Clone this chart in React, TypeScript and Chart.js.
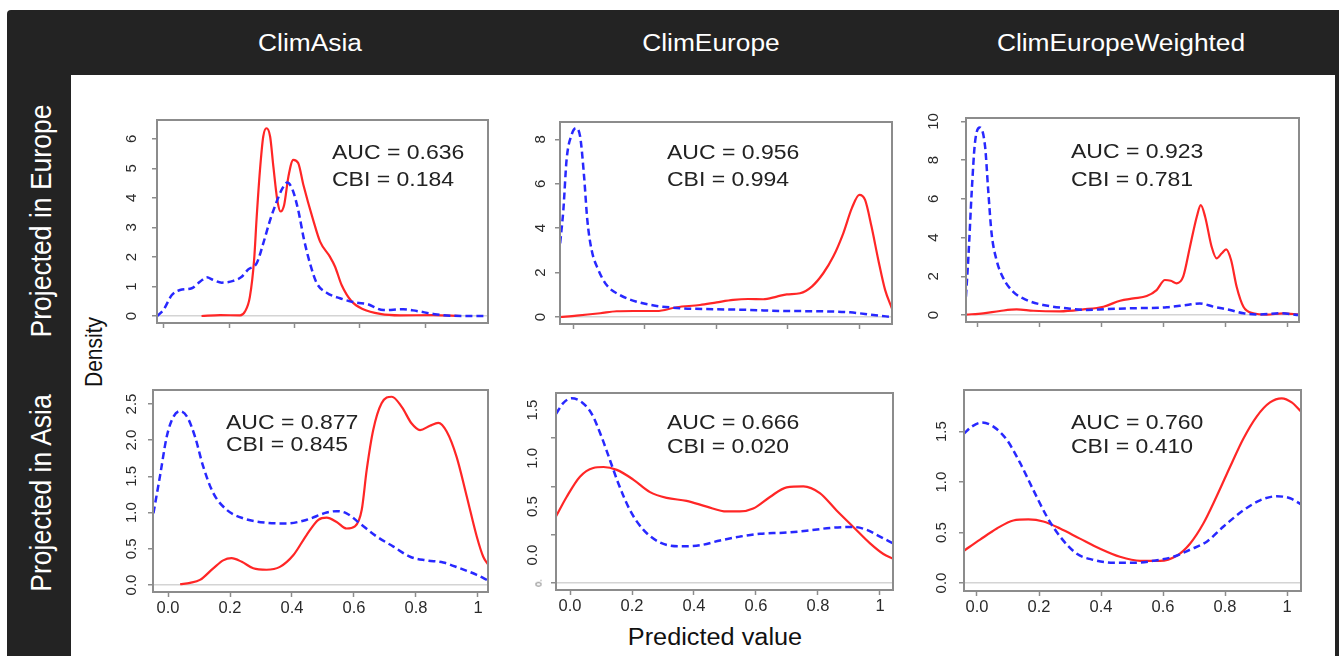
import React, { useEffect, useRef } from "react";
import { Chart, registerables } from "chart.js";

Chart.register(...registerables);

const FONT = '"Liberation Sans", Arial, Helvetica, sans-serif';
const RED = "rgb(255,38,38)";
const BLUE = "rgb(40,40,255)";
const AXIS = "#8c8c8c";

// ---------- text ----------
const colHeaders = ["ClimAsia", "ClimEurope", "ClimEuropeWeighted"];
const rowHeaders = ["Projected in Europe", "Projected in Asia"];
const aucValues = ["0.636", "0.956", "0.923", "0.877", "0.666", "0.760"];
const cbiValues = ["0.184", "0.994", "0.781", "0.845", "0.020", "0.410"];

// ---------- ticks ----------
const xTicksShort = [0, 0.2, 0.4, 0.6, 0.8];
const xTicksFull = [0, 0.2, 0.4, 0.6, 0.8, 1];
const xTickLabels = ["0.0", "0.2", "0.4", "0.6", "0.8", "1"];

const yTicksEuAsia = [0, 1, 2, 3, 4, 5, 6];
const yLabelsEuAsia = ["0", "1", "2", "3", "4", "5", "6"];
const yTicksEuEurope = [0, 2, 4, 6, 8];
const yLabelsEuEurope = ["0", "2", "4", "6", "8"];
const yTicksEuWeighted = [0, 2, 4, 6, 8, 10];
const yLabelsEuWeighted = ["0", "2", "4", "6", "8", "10"];
const yTicksAsAsia = [0, 0.5, 1, 1.5, 2, 2.5];
const yLabelsAsAsia = ["0.0", "0.5", "1.0", "1.5", "2.0", "2.5"];
const yTicksAsEurope = [0, 0.5, 1, 1.5];
const yLabelsAsEurope = ["0.0", "0.5", "1.0", "1.5"];
const yTicksAsWeighted = [0, 0.5, 1, 1.5];
const yLabelsAsWeighted = ["0.0", "0.5", "1.0", "1.5"];

// ---------- series: Projected in Europe / ClimAsia ----------
const euAsiaBlueX = [-0.021, -0.002, 0.024, 0.049, 0.085, 0.11, 0.131, 0.151, 0.177, 0.212, 0.238, 0.258, 0.284, 0.304, 0.325, 0.345, 0.363, 0.378, 0.394, 0.411, 0.429, 0.447, 0.468, 0.498, 0.539, 0.59, 0.621, 0.672, 0.733, 0.774, 0.825, 0.876, 0.992];
const euAsiaBlueY = [0, 0.2, 0.71, 0.88, 0.94, 1.16, 1.31, 1.22, 1.13, 1.19, 1.33, 1.58, 1.79, 2.46, 3.25, 3.87, 4.33, 4.52, 4.27, 3.59, 2.58, 1.79, 1.11, 0.79, 0.6, 0.45, 0.41, 0.2, 0.23, 0.17, 0.07, 0.01, 0];
const euAsiaRedX = [0.115, 0.172, 0.233, 0.248, 0.263, 0.276, 0.284, 0.294, 0.304, 0.314, 0.325, 0.335, 0.347, 0.357, 0.368, 0.381, 0.396, 0.411, 0.427, 0.457, 0.478, 0.508, 0.524, 0.544, 0.575, 0.61, 0.662, 0.723, 0.825, 0.907];
const euAsiaRedY = [0, 0.03, 0.02, 0.15, 0.65, 1.9, 3.37, 4.95, 6.08, 6.36, 6.08, 5.06, 3.93, 3.54, 3.76, 4.72, 5.29, 5.18, 4.44, 3.25, 2.52, 2.01, 1.67, 1.05, 0.49, 0.23, 0.07, 0.02, 0.03, 0];

// ---------- Projected in Europe / ClimEurope ----------
const euEurBlueX = [-0.036, -0.027, -0.018, -0.004, 0.008, 0.02, 0.031, 0.04, 0.052, 0.071, 0.094, 0.131, 0.178, 0.234, 0.309, 0.402, 0.495, 0.588, 0.682, 0.775, 0.84, 0.892];
const euEurBlueY = [3.32, 4.82, 7.07, 8.2, 8.5, 8.12, 6.32, 4.37, 3.02, 2.12, 1.44, 0.99, 0.69, 0.5, 0.39, 0.35, 0.32, 0.27, 0.26, 0.21, 0.09, 0];
const euEurRedX = [-0.036, 0.01, 0.076, 0.122, 0.168, 0.234, 0.29, 0.355, 0.402, 0.448, 0.49, 0.532, 0.57, 0.598, 0.635, 0.668, 0.7, 0.728, 0.756, 0.78, 0.801, 0.817, 0.835, 0.854, 0.873, 0.892];
const euEurRedY = [0, 0.06, 0.17, 0.26, 0.27, 0.27, 0.44, 0.54, 0.66, 0.77, 0.81, 0.8, 0.92, 1.02, 1.07, 1.37, 1.97, 2.72, 3.77, 4.9, 5.5, 5.27, 4.07, 2.57, 1.22, 0.39];

// ---------- Projected in Europe / ClimEuropeWeighted ----------
const euWBlueX = [-0.039, -0.031, -0.02, -0.01, 0.006, 0.023, 0.033, 0.044, 0.06, 0.082, 0.114, 0.158, 0.211, 0.287, 0.352, 0.417, 0.503, 0.611, 0.675, 0.718, 0.762, 0.816, 0.859, 0.913, 0.977, 1.039];
const euWBlueY = [0.95, 3.01, 6.46, 8.87, 9.69, 8.7, 6.46, 4.22, 2.84, 1.9, 1.2, 0.77, 0.52, 0.35, 0.26, 0.31, 0.35, 0.4, 0.52, 0.6, 0.43, 0.26, 0.09, 0.03, 0.09, 0];
const euWRedX = [-0.039, 0.017, 0.071, 0.125, 0.179, 0.265, 0.341, 0.406, 0.46, 0.503, 0.546, 0.578, 0.605, 0.624, 0.643, 0.664, 0.686, 0.708, 0.721, 0.735, 0.756, 0.772, 0.789, 0.803, 0.819, 0.837, 0.859, 0.891, 0.934, 0.988, 1.039];
const euWRedY = [0.02, 0.09, 0.21, 0.29, 0.22, 0.19, 0.29, 0.43, 0.74, 0.86, 0.98, 1.29, 1.81, 1.77, 1.64, 1.98, 3.53, 5.08, 5.68, 5.08, 3.53, 2.93, 3.19, 3.39, 2.84, 1.46, 0.43, 0.09, 0.02, 0.09, 0.03];

// ---------- Projected in Asia / ClimAsia ----------
const asAsiaBlueX = [-0.047, -0.026, -0.004, 0.017, 0.039, 0.062, 0.087, 0.114, 0.146, 0.189, 0.243, 0.318, 0.383, 0.447, 0.512, 0.544, 0.576, 0.619, 0.673, 0.727, 0.781, 0.834, 0.888, 0.942, 0.996, 1.033];
const asAsiaBlueY = [0.99, 1.5, 2.05, 2.32, 2.4, 2.32, 2.05, 1.63, 1.27, 1.04, 0.92, 0.86, 0.85, 0.9, 1.0, 1.02, 0.99, 0.85, 0.67, 0.53, 0.39, 0.34, 0.31, 0.23, 0.14, 0.06];
const asAsiaRedX = [0.039, 0.071, 0.103, 0.146, 0.178, 0.205, 0.238, 0.275, 0.318, 0.361, 0.404, 0.447, 0.485, 0.512, 0.544, 0.576, 0.603, 0.625, 0.641, 0.662, 0.689, 0.722, 0.754, 0.786, 0.813, 0.845, 0.872, 0.899, 0.931, 0.964, 0.996, 1.017, 1.033];
const asAsiaRedY = [0.01, 0.03, 0.07, 0.23, 0.34, 0.37, 0.32, 0.23, 0.21, 0.25, 0.41, 0.69, 0.9, 0.93, 0.87, 0.78, 0.81, 1.04, 1.59, 2.14, 2.51, 2.6, 2.46, 2.23, 2.14, 2.2, 2.24, 2.12, 1.77, 1.22, 0.67, 0.39, 0.28];

// ---------- Projected in Asia / ClimEurope ----------
const asEurBlueX = [-0.045, -0.022, 0.005, 0.038, 0.07, 0.102, 0.129, 0.156, 0.194, 0.237, 0.29, 0.355, 0.419, 0.484, 0.548, 0.613, 0.688, 0.763, 0.839, 0.914, 0.957, 1.0, 1.042];
const asEurBlueY = [1.75, 1.86, 1.91, 1.87, 1.75, 1.51, 1.27, 1.03, 0.75, 0.55, 0.42, 0.38, 0.39, 0.44, 0.48, 0.51, 0.52, 0.54, 0.57, 0.58, 0.55, 0.48, 0.41];
const asEurRedX = [-0.045, -0.011, 0.032, 0.075, 0.108, 0.151, 0.204, 0.258, 0.312, 0.376, 0.441, 0.505, 0.548, 0.591, 0.645, 0.699, 0.753, 0.806, 0.86, 0.914, 0.968, 1.011, 1.042];
const asEurRedY = [0.69, 0.89, 1.1, 1.19, 1.2, 1.17, 1.07, 0.94, 0.88, 0.85, 0.79, 0.74, 0.74, 0.77, 0.89, 0.99, 1.0, 0.93, 0.75, 0.58, 0.41, 0.3, 0.25];

// ---------- Projected in Asia / ClimEuropeWeighted ----------
const asWBlueX = [-0.042, -0.017, 0.015, 0.053, 0.096, 0.139, 0.182, 0.225, 0.268, 0.322, 0.375, 0.44, 0.504, 0.569, 0.633, 0.687, 0.741, 0.795, 0.859, 0.913, 0.967, 1.01, 1.045];
const asWBlueY = [1.48, 1.55, 1.59, 1.55, 1.42, 1.19, 0.92, 0.66, 0.46, 0.29, 0.23, 0.2, 0.2, 0.22, 0.26, 0.33, 0.41, 0.56, 0.72, 0.82, 0.86, 0.84, 0.78];
const asWRedX = [-0.042, 0.01, 0.064, 0.117, 0.166, 0.214, 0.268, 0.332, 0.397, 0.461, 0.526, 0.59, 0.644, 0.687, 0.73, 0.773, 0.816, 0.859, 0.902, 0.945, 0.983, 1.015, 1.045];
const asWRedY = [0.32, 0.43, 0.54, 0.62, 0.63, 0.61, 0.54, 0.44, 0.34, 0.26, 0.22, 0.22, 0.27, 0.39, 0.59, 0.86, 1.15, 1.43, 1.65, 1.79, 1.83, 1.79, 1.7];

const toPts = (xs: number[], ys: number[]) => xs.map((x, i) => ({ x, y: ys[i] }));

type PanelDef = {
  box: [number, number, number, number];
  xMin: number; xMax: number; yMin: number; yMax: number;
  xTicks: number[]; showX: boolean;
  yTicks: number[]; yLabels: string[];
  yPad: number; yLabelOffset: number;
  blueX: number[]; blueY: number[]; redX: number[]; redY: number[];
  textLeft: number; textY1: number; textY2: number;
};

const panels: PanelDef[] = [
  { box: [157, 120, 488, 323], xMin: -0.0214, xMax: 0.9923, yMin: -0.237, yMax: 6.64, xTicks: xTicksShort, showX: false,
    yTicks: yTicksEuAsia, yLabels: yLabelsEuAsia, yPad: 16, yLabelOffset: 0,
    blueX: euAsiaBlueX, blueY: euAsiaBlueY, redX: euAsiaRedX, redY: euAsiaRedY, textLeft: 332, textY1: 152, textY2: 179 },
  { box: [560, 122, 892, 324], xMin: -0.0364, xMax: 0.8923, yMin: -0.315, yMax: 8.78, xTicks: xTicksShort, showX: false,
    yTicks: yTicksEuEurope, yLabels: yLabelsEuEurope, yPad: 10, yLabelOffset: 0,
    blueX: euEurBlueX, blueY: euEurBlueY, redX: euEurRedX, redY: euEurRedY, textLeft: 667, textY1: 152, textY2: 179 },
  { box: [966, 118, 1299, 322], xMin: -0.0388, xMax: 1.0388, yMin: -0.36, yMax: 10.18, xTicks: xTicksFull, showX: false,
    yTicks: yTicksEuWeighted, yLabels: yLabelsEuWeighted, yPad: 19, yLabelOffset: 0,
    blueX: euWBlueX, blueY: euWBlueY, redX: euWRedX, redY: euWRedY, textLeft: 1071, textY1: 151, textY2: 179 },
  { box: [153, 390, 488, 592], xMin: -0.0484, xMax: 1.0323, yMin: -0.097, yMax: 2.693, xTicks: xTicksFull, showX: true,
    yTicks: yTicksAsAsia, yLabels: yLabelsAsAsia, yPad: 5.5, yLabelOffset: 0,
    blueX: asAsiaBlueX, blueY: asAsiaBlueY, redX: asAsiaRedX, redY: asAsiaRedY, textLeft: 226, textY1: 422, textY2: 444 },
  { box: [556, 393, 893, 590], xMin: -0.0452, xMax: 1.042, yMin: -0.072, yMax: 1.965, xTicks: xTicksFull, showX: true,
    yTicks: yTicksAsEurope, yLabels: yLabelsAsEurope, yPad: 8, yLabelOffset: -28,
    blueX: asEurBlueX, blueY: asEurBlueY, redX: asEurRedX, redY: asEurRedY, textLeft: 667, textY1: 422, textY2: 446 },
  { box: [964, 390, 1301, 591], xMin: -0.0419, xMax: 1.045, yMin: -0.079, yMax: 1.913, xTicks: xTicksFull, showX: true,
    yTicks: yTicksAsWeighted, yLabels: yLabelsAsWeighted, yPad: 7, yLabelOffset: 0,
    blueX: asWBlueX, blueY: asWBlueY, redX: asWRedX, redY: asWRedY, textLeft: 1071, textY1: 422, textY2: 446 },
];

const L = 45, T = 16, R = 3;

const boxPlugin = {
  id: "rbox",
  afterDatasetsDraw(chart: any) {
    const { ctx, chartArea: a } = chart;
    ctx.save();
    ctx.strokeStyle = AXIS;
    ctx.lineWidth = 2;
    ctx.strokeRect(a.left, a.top, a.right - a.left, a.bottom - a.top);
    ctx.restore();
  },
};

function Panel({ p }: { p: PanelDef }) {
  const ref = useRef<HTMLCanvasElement>(null);
  const B = p.showX ? 34 : 10;
  const w = p.box[2] - p.box[0] + L + R;
  const h = p.box[3] - p.box[1] + T + B;
  useEffect(() => {
    const canvas = ref.current!;
    const chart = new Chart(canvas, {
      type: "line",
      data: {
        datasets: [
          { data: toPts(p.blueX, p.blueY), borderColor: BLUE, borderWidth: 2.5, borderDash: [7, 4], pointRadius: 0, cubicInterpolationMode: "monotone", fill: false },
          { data: toPts(p.redX, p.redY), borderColor: RED, borderWidth: 2.2, pointRadius: 0, cubicInterpolationMode: "monotone", fill: false },
        ],
      },
      options: {
        animation: false,
        responsive: false,
        events: [],
        layout: { padding: { top: T, right: R, left: 0, bottom: 0 } },
        plugins: { legend: { display: false }, tooltip: { enabled: false } },
        scales: {
          x: {
            type: "linear", min: p.xMin, max: p.xMax,
            afterBuildTicks: (s: any) => { s.ticks = p.xTicks.map((v) => ({ value: v })); },
            afterFit: (s: any) => { s.height = B; s.paddingLeft = 0; s.paddingRight = 0; },
            border: { display: false },
            grid: { display: true, drawOnChartArea: false, drawTicks: true, tickLength: 5, tickColor: AXIS, tickWidth: 1.5 },
            ticks: {
              display: p.showX, autoSkip: false, maxRotation: 0, minRotation: 0, padding: 2,
              color: "#2a2a2a", font: { family: FONT, size: 16.5 },
              callback: (_v: any, i: number) => xTickLabels[i],
            },
          },
          y: {
            type: "linear", min: p.yMin, max: p.yMax,
            afterBuildTicks: (s: any) => { s.ticks = p.yTicks.map((v) => ({ value: v })); },
            afterFit: (s: any) => { s.width = L; s.paddingTop = 0; s.paddingBottom = 0; },
            border: { display: false },
            grid: {
              display: true, drawOnChartArea: true, drawTicks: true, tickLength: 5, tickColor: AXIS, tickWidth: 1.5,
              lineWidth: 1.5,
              color: (c: any) => (c.tick && c.tick.value === 0 ? "#d4d4d4" : "rgba(0,0,0,0)"),
            },
            ticks: {
              autoSkip: false, minRotation: 90, maxRotation: 90, crossAlign: "center", padding: p.yPad,
              labelOffset: p.yLabelOffset,
              color: "#2a2a2a", font: { family: FONT, size: 15 },
              callback: (_v: any, i: number) => p.yLabels[i],
            },
          },
        },
      } as any,
      plugins: [boxPlugin],
    });
    return () => chart.destroy();
  }, []);
  return (
    <canvas
      ref={ref}
      width={w}
      height={h}
      style={{ position: "absolute", left: p.box[0] - L, top: p.box[1] - T, width: w, height: h }}
    />
  );
}

const centered = (cx: number, cy: number, extra: string): React.CSSProperties => ({
  position: "absolute", left: cx, top: cy, whiteSpace: "nowrap",
  transform: `translate(-50%, -50%) ${extra}`, lineHeight: 1,
});

export default function App() {
  const headerX = [310, 711, 1121];
  const rowY = [221, 493];
  return (
    <div style={{ position: "fixed", left: 0, top: 0, width: 1339, height: 656, background: "#fff", overflow: "hidden", fontFamily: FONT }}>
      <div style={{ position: "absolute", left: 7, top: 10, width: 1340, height: 660, background: "#232323", borderTopLeftRadius: 4 }} />
      <div style={{ position: "absolute", left: 71, top: 75, width: 1264, height: 600, background: "#fff" }} />
      {colHeaders.map((t, i) => (
        <div key={t} style={{ ...centered(headerX[i], 44, "scaleX(1.12)"), color: "#fff", fontSize: 23.5 }}>{t}</div>
      ))}
      {rowHeaders.map((t, i) => (
        <div key={t} style={{ ...centered(41, rowY[i], "scaleX(1.12) rotate(-90deg)"), color: "#fff", fontSize: 26.5 }}>{t}</div>
      ))}
      <div style={{ ...centered(94, 352, "scaleX(1.12) rotate(-90deg)"), color: "#111", fontSize: 21 }}>Density</div>
      <div style={{ ...centered(715, 637, "scaleX(1.1)"), color: "#111", fontSize: 23 }}>Predicted value</div>
      {panels.map((p, i) => (
        <Panel key={i} p={p} />
      ))}
      {panels.map((p, i) => (
        <React.Fragment key={"t" + i}>
          <div style={{ position: "absolute", left: p.textLeft, top: p.textY1 - 11, height: 22, lineHeight: "22px", fontSize: 20, color: "#222", whiteSpace: "nowrap", transform: "scaleX(1.15)", transformOrigin: "left center" }}>
            {"AUC = " + aucValues[i]}
          </div>
          <div style={{ position: "absolute", left: p.textLeft, top: p.textY2 - 11, height: 22, lineHeight: "22px", fontSize: 20, color: "#222", whiteSpace: "nowrap", transform: "scaleX(1.15)", transformOrigin: "left center" }}>
            {"CBI = " + cbiValues[i]}
          </div>
        </React.Fragment>
      ))}
      <div style={{ position: "absolute", left: 539, top: 583, transform: "translate(-50%,-50%) rotate(-90deg)", fontSize: 9, color: "#666", lineHeight: 1 }}>0.</div>
    </div>
  );
}
